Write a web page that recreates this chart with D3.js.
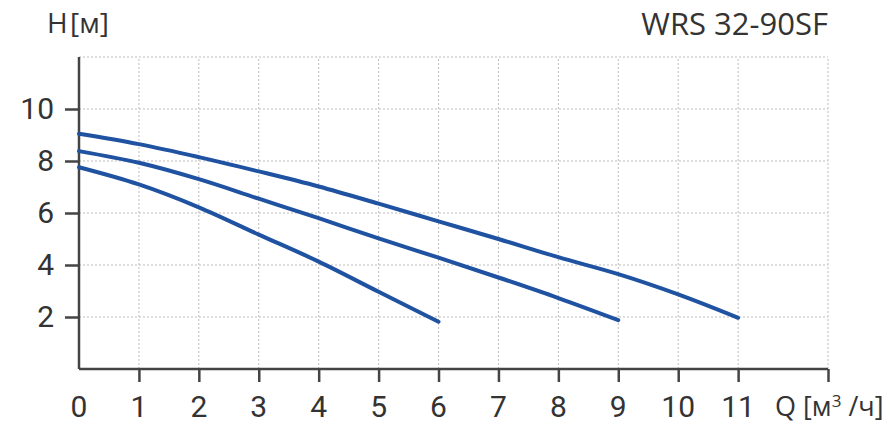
<!DOCTYPE html>
<html>
<head>
<meta charset="utf-8">
<script src="https://cdn.jsdelivr.net/npm/d3@7"></script>
<style>
  body { margin: 0; background: #fff; }
  text { fill: #333; }
</style>
</head>
<body>
<script>
// Q [m3/h] and head H [m]
const q = [0, 1, 2, 3, 4, 5, 6, 7, 8, 9, 10, 11]
const speed3 = [9.05, 8.65, 8.15, 7.6, 7.02, 6.36, 5.68, 5.0, 4.3, 3.65, 2.87, 1.97]
const speed2 = [8.38, 7.93, 7.3, 6.55, 5.8, 5.02, 4.28, 3.52, 2.73, 1.88]
const speed1 = [7.76, 7.1, 6.22, 5.17, 4.13, 2.97, 1.82]
const xTicks = [1, 2, 3, 4, 5, 6, 7, 8, 9, 10, 11, 12.5]
const xLabels = [0, 1, 2, 3, 4, 5, 6, 7, 8, 9, 10, 11]
const yTicks = [2, 4, 6, 8, 10]
const yGrid = [2, 4, 6, 8, 10, 12]

const svg = d3.select("body")
    .append("svg")
    .attr("width", 893)
    .attr("height", 433)

const x = d3.scaleLinear().domain([0, 12.5]).range([79, 828])
const y = d3.scaleLinear().domain([0, 12]).range([369, 57])

// dotted grid
svg.append("g")
    .selectAll("line")
    .data(xTicks).enter()
    .append("line")
    .attr("x1", d => x(d)).attr("x2", d => x(d))
    .attr("y1", y(0)).attr("y2", y(12))
    .attr("stroke", "#bdbdbd")
    .attr("stroke-dasharray", "2,2")
svg.append("g")
    .selectAll("line")
    .data(yGrid).enter()
    .append("line")
    .attr("x1", x(0)).attr("x2", x(12.5))
    .attr("y1", d => y(d)).attr("y2", d => y(d))
    .attr("stroke", "#bdbdbd")
    .attr("stroke-dasharray", "2,2")

// axes
const xAxis = d3.axisBottom(x).tickValues(xTicks).tickSize(13).tickFormat("")
const yAxis = d3.axisLeft(y).tickValues(yTicks).tickSize(14).tickFormat(d3.format("d"))

const gx = svg.append("g")
    .attr("transform", "translate(0," + y(0) + ")")
    .call(xAxis)
gx.select(".domain").attr("d", "M" + x(0) + ",0H" + x(12.5))

const gy = svg.append("g")
    .attr("transform", "translate(" + x(0) + ",0)")
    .call(yAxis)
gy.select(".domain").attr("d", "M0," + y(12) + "V" + y(0))

svg.selectAll(".domain, .tick line")
    .attr("stroke", "#444")
    .attr("stroke-width", 2.5)

gy.selectAll(".tick text")
    .attr("x", -25)
    .attr("font-family", "Roboto")
    .attr("font-size", "30px")
    .attr("fill", "#333")

svg.append("g")
    .selectAll("text")
    .data(xLabels).enter()
    .append("text")
    .attr("x", d => x(d))
    .attr("y", 417)
    .attr("text-anchor", "middle")
    .attr("font-family", "Roboto")
    .attr("font-size", "30px")
    .text(d => d)

// curves
const line = d3.line()
    .x((d, i) => x(q[i]))
    .y(d => y(d))
    .curve(d3.curveCatmullRom.alpha(0.5))

svg.append("g")
    .selectAll("path")
    .data([speed3, speed2, speed1]).enter()
    .append("path")
    .attr("d", line)
    .attr("fill", "none")
    .attr("stroke", "#1f52a0")
    .attr("stroke-width", 4)
    .attr("stroke-linecap", "round")

// labels
svg.append("text")
    .attr("x", 47).attr("y", 33)
    .attr("font-family", "Open Sans")
    .attr("font-size", "28px")
    .text("H")
svg.append("text")
    .attr("x", 70).attr("y", 33)
    .attr("font-family", "Open Sans")
    .attr("font-size", "28px")
    .text("[м]")

svg.append("text")
    .attr("x", 828).attr("y", 35)
    .attr("text-anchor", "end")
    .attr("font-family", "Open Sans")
    .attr("font-size", "31px")
    .text("WRS 32-90SF")

const ql = svg.append("text")
    .attr("x", 775).attr("y", 416)
    .attr("font-family", "Open Sans")
    .attr("font-size", "27px")
ql.append("tspan").text("Q [м")
ql.append("tspan").attr("font-size", "17px").attr("dy", -9).text("3")
ql.append("tspan").attr("dy", 9).text(" /ч]")
</script>
</body>
</html>
